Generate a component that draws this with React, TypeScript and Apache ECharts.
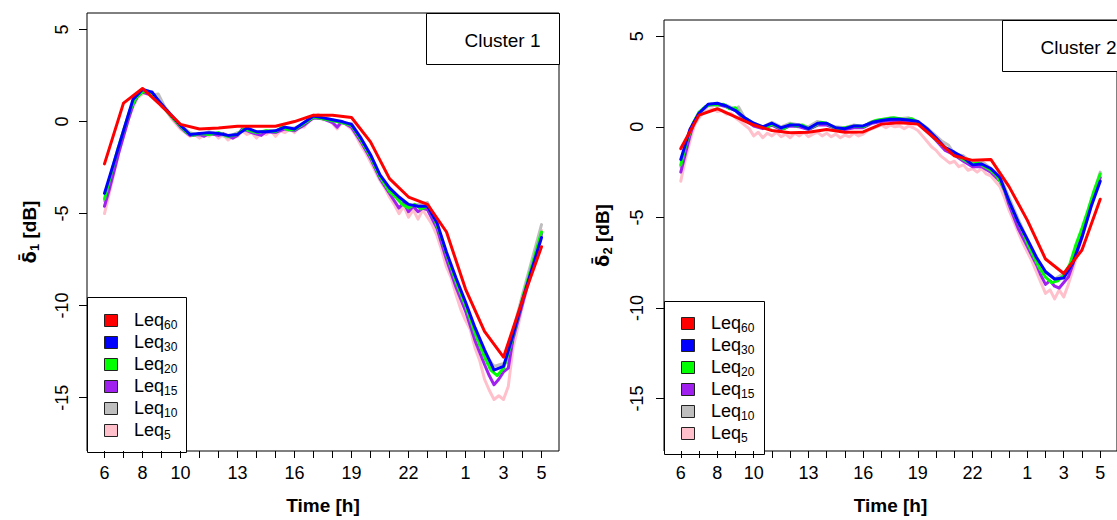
import React, { useEffect, useRef } from "react";
import * as echarts from "echarts";

// ---------- axes ----------
const TICK_HOURS = [6, 7, 8, 9, 10, 11, 12, 13, 14, 15, 16, 17, 18, 19, 20, 21, 22, 23, 24, 25, 26, 27, 28, 29];
const LABEL_HOURS = [6, 8, 10, 13, 16, 19, 22, 25, 27, 29];
const Y_TICKS = [-15, -10, -5, 0, 5];

const HOURS_60 = [6, 7, 8, 9, 10, 11, 12, 13, 14, 15, 16, 17, 18, 19, 20, 21, 22, 23, 24, 25, 26, 27, 28, 29];
const HOURS_30 = [6, 6.5, 7, 7.5, 8, 8.5, 9, 9.5, 10, 10.5, 11, 11.5, 12, 12.5, 13, 13.5, 14, 14.5, 15, 15.5, 16, 16.5, 17, 17.5, 18, 18.5, 19, 19.5, 20, 20.5, 21, 21.5, 22, 22.5, 23, 23.5, 24, 24.5, 25, 25.5, 26, 26.5, 27, 27.5, 28, 28.5, 29];

// ---------- Cluster 1 ----------
const C1_LEQ60 = [-2.3, 1.0, 1.8, 0.85, -0.15, -0.4, -0.35, -0.25, -0.25, -0.25, 0.0, 0.35, 0.35, 0.22, -1.1, -3.1, -4.1, -4.5, -6.0, -9.1, -11.4, -12.8, -9.7, -6.8];
const C1_LEQ30 = [-3.9, -2.2, -0.5, 1.2, 1.75, 1.6, 0.95, 0.35, -0.2, -0.7, -0.65, -0.6, -0.65, -0.75, -0.7, -0.35, -0.55, -0.55, -0.5, -0.3, -0.4, -0.05, 0.3, 0.2, 0.1, 0.0, -0.15, -0.9, -1.8, -2.9, -3.6, -4.1, -4.5, -4.6, -4.6, -5.5, -7.1, -8.5, -9.8, -11.2, -12.4, -13.5, -13.3, -11.6, -9.7, -8.0, -6.3];
const C1_LEQ20 = [[6,-4.2],[6.33,-2.9],[6.67,-1.6],[7,-0.5],[7.33,0.6],[7.67,1.3],[8,1.6],[8.33,1.65],[8.67,1.3],[9,0.9],[9.33,0.5],[9.67,0.1],[10,-0.25],[10.33,-0.6],[10.67,-0.75],[11,-0.65],[11.5,-0.7],[12,-0.6],[12.5,-0.8],[13,-0.7],[13.33,-0.4],[13.67,-0.5],[14,-0.6],[14.5,-0.5],[15,-0.55],[15.33,-0.3],[15.67,-0.45],[16,-0.45],[16.5,-0.1],[17,0.25],[17.5,0.15],[18,0.05],[18.5,-0.05],[19,-0.2],[19.5,-1.0],[20,-1.9],[20.5,-3.0],[21,-3.8],[21.33,-4.1],[21.67,-4.5],[22,-4.7],[22.33,-4.5],[22.67,-4.75],[23,-4.6],[23.33,-5.2],[23.67,-6.1],[24,-7.2],[24.5,-8.7],[25,-10.0],[25.5,-11.5],[26,-12.8],[26.33,-13.5],[26.67,-13.8],[27,-13.4],[27.33,-12.3],[27.67,-11.0],[28,-9.6],[28.5,-7.8],[29,-6.0]];
const C1_LEQ15 = [[6,-4.6],[6.25,-3.7],[6.5,-2.7],[6.75,-1.7],[7,-0.8],[7.25,0.1],[7.5,0.9],[7.75,1.4],[8,1.6],[8.25,1.5],[8.5,1.6],[8.75,1.2],[9,0.9],[9.5,0.3],[10,-0.3],[10.25,-0.55],[10.5,-0.75],[11,-0.7],[11.25,-0.8],[11.5,-0.65],[12,-0.75],[12.25,-0.65],[12.75,-0.9],[13,-0.75],[13.25,-0.4],[13.75,-0.6],[14.25,-0.75],[14.5,-0.55],[15,-0.6],[15.5,-0.4],[16,-0.5],[16.5,-0.2],[17,0.2],[17.5,0.15],[18,-0.05],[18.25,-0.3],[18.5,0.0],[19,-0.3],[19.5,-1.1],[20,-2.0],[20.5,-3.1],[21,-3.9],[21.25,-4.3],[21.5,-4.7],[21.75,-4.4],[22,-4.9],[22.25,-4.6],[22.5,-4.9],[22.75,-4.7],[23,-4.8],[23.5,-5.8],[24,-7.5],[24.5,-9.0],[25,-10.3],[25.5,-11.9],[26,-13.2],[26.25,-13.8],[26.5,-14.3],[26.75,-14.0],[27,-13.6],[27.25,-13.4],[27.5,-11.8],[28,-9.9],[28.5,-8.0],[29,-6.1]];
const C1_LEQ10 = [[6,-4.3],[6.5,-2.4],[7,-0.5],[7.5,1.0],[7.83,1.55],[8.17,1.7],[8.5,1.45],[8.83,1.5],[9.17,0.8],[9.5,0.4],[10,-0.2],[10.5,-0.6],[11,-0.75],[11.5,-0.55],[12,-0.7],[12.5,-0.85],[13,-0.6],[13.5,-0.45],[14,-0.7],[14.5,-0.5],[15,-0.5],[15.5,-0.35],[16,-0.35],[16.5,-0.15],[17,0.35],[17.5,0.2],[18,0.1],[18.5,-0.1],[19,-0.1],[19.5,-0.9],[20,-1.8],[20.5,-3.0],[21,-3.7],[21.5,-4.3],[22,-4.6],[22.5,-4.5],[23,-4.4],[23.5,-5.6],[24,-7.3],[24.5,-8.6],[25,-9.9],[25.5,-11.4],[26,-12.6],[26.5,-13.3],[26.83,-13.2],[27.17,-13.1],[27.5,-11.4],[28,-9.4],[28.5,-7.5],[29,-5.6]];
const C1_LEQ5 = [[6,-5.0],[6.25,-3.9],[6.5,-2.8],[6.75,-1.7],[7,-0.8],[7.25,0.1],[7.5,0.8],[7.75,1.3],[8,1.5],[8.25,1.6],[8.5,1.4],[8.75,1.3],[9,0.8],[9.25,0.6],[9.5,0.2],[9.75,-0.1],[10,-0.4],[10.25,-0.6],[10.5,-0.8],[10.75,-0.7],[11,-0.9],[11.25,-0.7],[11.5,-0.8],[11.75,-0.6],[12,-0.9],[12.25,-0.7],[12.5,-1.0],[12.75,-0.8],[13,-0.8],[13.25,-0.5],[13.5,-0.7],[13.75,-0.6],[14,-0.9],[14.25,-0.6],[14.5,-0.7],[14.75,-0.5],[15,-0.8],[15.25,-0.5],[15.5,-0.6],[15.75,-0.4],[16,-0.6],[16.25,-0.3],[16.5,-0.3],[16.75,0.1],[17,0.2],[17.25,0.4],[17.5,0.1],[17.75,0.2],[18,-0.1],[18.25,-0.4],[18.5,0.0],[18.75,-0.2],[19,-0.4],[19.25,-0.8],[19.5,-1.3],[19.75,-1.7],[20,-2.2],[20.25,-2.7],[20.5,-3.2],[20.75,-3.6],[21,-4.1],[21.25,-4.5],[21.5,-5.0],[21.75,-4.6],[22,-5.2],[22.25,-4.8],[22.5,-5.3],[22.75,-4.8],[23,-5.2],[23.25,-5.6],[23.5,-6.2],[23.75,-7.0],[24,-7.9],[24.25,-8.5],[24.5,-9.4],[24.75,-10.2],[25,-10.8],[25.25,-11.3],[25.5,-12.3],[25.75,-13.0],[26,-14.0],[26.25,-14.6],[26.5,-15.1],[26.75,-14.9],[27,-15.1],[27.25,-14.4],[27.5,-12.3],[27.75,-11.2],[28,-10.0],[28.25,-9.0],[28.5,-8.1],[28.75,-7.0],[29,-5.9]];

// ---------- Cluster 2 ----------
const C2_LEQ60 = [-1.2, 0.65, 1.0, 0.55, 0.1, -0.2, -0.32, -0.3, -0.15, -0.3, -0.28, 0.15, 0.22, 0.15, -0.7, -1.6, -1.85, -1.8, -3.3, -5.15, -7.3, -8.1, -6.8, -4.0];
const C2_LEQ30 = [-1.8, -0.15, 0.75, 1.25, 1.3, 1.15, 0.9, 0.5, 0.2, 0.0, 0.2, -0.05, 0.1, 0.1, -0.1, 0.2, 0.2, -0.05, -0.1, 0.05, 0.05, 0.25, 0.35, 0.42, 0.42, 0.38, 0.3, -0.1, -0.6, -1.15, -1.4, -1.7, -2.1, -2.05, -2.3, -2.8, -4.1, -5.25, -6.2, -7.2, -8.0, -8.4, -8.35, -7.5, -6.1, -4.4, -3.0];
const C2_LEQ20 = [[6,-2.1],[6.33,-0.8],[6.67,0.2],[7,0.8],[7.33,1.1],[7.67,1.25],[8,1.2],[8.33,1.25],[8.67,1.0],[9,1.05],[9.33,0.6],[9.67,0.4],[10,0.15],[10.33,0.05],[10.67,-0.05],[11,0.15],[11.33,0.0],[11.67,-0.1],[12,0.15],[12.33,0.05],[12.67,0.1],[13,-0.1],[13.33,0.05],[13.67,0.25],[14,0.2],[14.33,0.0],[14.67,-0.1],[15,-0.05],[15.33,0.0],[15.67,0.05],[16,0.0],[16.33,0.2],[16.67,0.35],[17,0.4],[17.33,0.45],[17.67,0.5],[18,0.45],[18.33,0.4],[18.67,0.45],[19,0.25],[19.33,0.0],[19.67,-0.4],[20,-0.7],[20.33,-1.0],[20.67,-1.3],[21,-1.5],[21.33,-1.7],[21.67,-1.9],[22,-2.05],[22.33,-2.0],[22.67,-2.2],[23,-2.4],[23.33,-2.7],[23.67,-3.3],[24,-4.1],[24.33,-4.9],[24.67,-5.6],[25,-6.4],[25.33,-7.1],[25.67,-7.8],[26,-8.3],[26.33,-8.6],[26.67,-8.5],[27,-8.2],[27.33,-7.6],[27.67,-6.5],[28,-5.6],[28.33,-4.6],[28.67,-3.5],[29,-2.6]];
const C2_LEQ15 = [[6,-2.5],[6.25,-1.5],[6.5,-0.5],[6.75,0.3],[7,0.8],[7.5,1.2],[8,1.25],[8.5,1.1],[9,0.9],[9.5,0.4],[10,0.05],[10.5,-0.1],[11,0.1],[11.5,-0.15],[12,0.05],[12.5,0.0],[13,-0.15],[13.5,0.1],[14,0.1],[14.5,-0.1],[15,-0.15],[15.5,-0.05],[16,-0.05],[16.5,0.2],[17,0.3],[17.5,0.35],[18,0.35],[18.5,0.3],[19,0.2],[19.5,-0.25],[20,-0.75],[20.5,-1.3],[21,-1.55],[21.5,-1.9],[22,-2.2],[22.5,-2.2],[23,-2.5],[23.5,-3.0],[23.75,-3.5],[24,-4.3],[24.5,-5.6],[25,-6.6],[25.5,-7.6],[25.75,-8.2],[26,-8.7],[26.25,-8.5],[26.5,-8.8],[26.75,-8.9],[27,-8.6],[27.25,-8.3],[27.5,-7.6],[28,-6.0],[28.5,-4.3],[29,-2.8]];
const C2_LEQ10 = [[6,-2.2],[6.5,-0.3],[7,0.7],[7.5,1.15],[8,1.2],[8.5,1.2],[9,0.95],[9.17,1.1],[9.5,0.5],[10,0.2],[10.5,0.0],[11,0.25],[11.5,0.0],[12,0.2],[12.5,0.1],[13,0.0],[13.5,0.3],[14,0.15],[14.5,0.0],[15,-0.05],[15.5,0.1],[16,0.0],[16.5,0.3],[17,0.4],[17.5,0.5],[18,0.45],[18.5,0.5],[19,0.3],[19.5,-0.05],[20,-0.5],[20.33,-0.8],[20.67,-1.0],[21,-1.5],[21.5,-1.6],[22,-2.0],[22.5,-1.9],[23,-2.3],[23.5,-2.7],[24,-3.9],[24.5,-5.1],[25,-6.2],[25.5,-7.2],[26,-8.0],[26.5,-8.4],[27,-8.1],[27.5,-7.4],[28,-5.8],[28.5,-4.1],[29,-2.5]];
const C2_LEQ5 = [[6,-3.0],[6.25,-1.8],[6.5,-0.8],[6.75,0.1],[7,0.5],[7.25,0.8],[7.5,0.9],[7.75,1.0],[8,0.85],[8.25,0.9],[8.5,0.7],[8.75,0.75],[9,0.5],[9.25,0.3],[9.5,0.1],[9.75,-0.1],[10,-0.5],[10.25,-0.3],[10.5,-0.6],[10.75,-0.35],[11,-0.5],[11.25,-0.3],[11.5,-0.55],[11.75,-0.4],[12,-0.6],[12.25,-0.35],[12.5,-0.5],[12.75,-0.3],[13,-0.55],[13.25,-0.4],[13.5,-0.3],[13.75,-0.5],[14,-0.35],[14.25,-0.55],[14.5,-0.4],[14.75,-0.6],[15,-0.45],[15.25,-0.55],[15.5,-0.35],[15.75,-0.5],[16,-0.4],[16.25,-0.2],[16.5,-0.1],[16.75,0.0],[17,0.1],[17.25,-0.05],[17.5,0.1],[17.75,0.0],[18,0.05],[18.25,-0.1],[18.5,0.05],[18.75,-0.05],[19,-0.2],[19.25,-0.5],[19.5,-0.8],[19.75,-1.1],[20,-1.3],[20.25,-1.6],[20.5,-1.8],[20.75,-2.0],[21,-1.9],[21.25,-2.2],[21.5,-2.1],[21.75,-2.4],[22,-2.3],[22.25,-2.5],[22.5,-2.3],[22.75,-2.6],[23,-2.7],[23.25,-3.0],[23.5,-3.3],[23.75,-3.9],[24,-4.6],[24.25,-5.2],[24.5,-5.8],[24.75,-6.4],[25,-6.9],[25.25,-7.4],[25.5,-8.0],[25.75,-8.6],[26,-9.2],[26.25,-9.0],[26.5,-9.5],[26.75,-9.0],[27,-9.4],[27.25,-8.7],[27.5,-7.9],[27.75,-7.0],[28,-6.1],[28.25,-5.2],[28.5,-4.4],[28.75,-3.6],[29,-2.8]];

const LEGEND_NAMES = ["60", "30", "20", "15", "10", "5"];
const COLORS = ["#FF0000", "#0000FF", "#00FF00", "#A020F0", "#BEBEBE", "#FFC0CB"];

const FONT = "'Liberation Sans', Arial, Helvetica, sans-serif";
const GREEK_FONT = "'DejaVu Sans', 'Liberation Sans', sans-serif";

function pairs(h: number[], v: number[]) {
  return h.map((x, i) => [x, v[i]]);
}

function legendGroup(bx: number, by: number, bw: number, bh: number, sqX: number, txX: number, y0: number, step: number) {
  const children: any[] = [
    { type: "rect", shape: { x: bx, y: by, width: bw, height: bh }, style: { fill: "#fff", stroke: "#000", lineWidth: 1 } },
  ];
  LEGEND_NAMES.forEach((n, i) => {
    const cy = y0 + i * step;
    children.push({
      type: "rect",
      shape: { x: sqX + 0.5, y: Math.round(cy - 6) + 0.5, width: 13, height: 12 },
      style: { fill: COLORS[i], stroke: "#222", lineWidth: 1 },
    });
    children.push({
      type: "text",
      x: txX,
      y: cy,
      style: {
        text: `{a|Leq}{b|${n}}`,
        verticalAlign: "middle",
        align: "left",
        rich: {
          a: { fontSize: 18, fontFamily: FONT, fill: "#000", lineHeight: 22, verticalAlign: "middle" },
          b: { fontSize: 12, fontFamily: FONT, fill: "#000", verticalAlign: "bottom" },
        },
      },
    });
  });
  return { type: "group", children };
}

function clusterBox(bx: number, by: number, bw: number, bh: number, label: string) {
  return {
    type: "group",
    children: [
      { type: "rect", shape: { x: bx, y: by, width: bw, height: bh }, style: { fill: "#fff", stroke: "#000", lineWidth: 1 } },
      { type: "text", x: bx + 38, y: by + 27, style: { text: label, fontSize: 19, fontFamily: FONT, fill: "#000", verticalAlign: "middle", align: "left" } },
    ],
  };
}

function xAxisCfg(gi: number) {
  return {
    gridIndex: gi,
    type: "value",
    min: 5.08,
    max: 29.92,
    axisLine: { show: false, onZero: false },
    splitLine: { show: false },
    axisTick: { show: true, length: 7, customValues: TICK_HOURS, lineStyle: { color: "#000", width: 1 } },
    axisLabel: {
      customValues: LABEL_HOURS,
      margin: 13,
      fontSize: 18,
      fontFamily: FONT,
      color: "#000",
      formatter: (v: number) => String(v > 24 ? v - 24 : v),
    },
    name: "Time [h]",
    nameLocation: "middle",
    nameGap: 45,
    nameTextStyle: { fontSize: 19, fontWeight: "bold", fontFamily: FONT, color: "#000" },
  };
}

function yAxisCfg(gi: number, sub: string, margin: number, gap: number) {
  return {
    gridIndex: gi,
    type: "value",
    min: -17.9,
    max: 5.9,
    axisLine: { show: false, onZero: false },
    splitLine: { show: false },
    axisTick: { show: true, length: 8, customValues: Y_TICKS, lineStyle: { color: "#000", width: 1 } },
    axisLabel: { customValues: Y_TICKS, rotate: 90, margin, fontSize: 18, fontFamily: FONT, color: "#000" },
    name: `{d|\u03B4\u0304}{s|${sub}}{a| [dB]}`,
    nameLocation: "middle",
    nameRotate: 90,
    nameGap: gap,
    nameTextStyle: {
      fontSize: 19,
      fontWeight: "bold",
      fontFamily: FONT,
      color: "#000",
      rich: {
        d: { fontSize: 18, fontWeight: "bold", fontFamily: GREEK_FONT, color: "#000", lineHeight: 24, verticalAlign: "middle" },
        a: { fontSize: 19, fontWeight: "bold", fontFamily: FONT, color: "#000", lineHeight: 24, verticalAlign: "middle" },
        s: { fontSize: 13, fontWeight: "bold", fontFamily: FONT, color: "#000", verticalAlign: "bottom" },
      },
    },
  };
}

function panelSeries(gi: number, l60: number[], l30: number[], l20: any[], l15: any[], l10: any[], l5: any[]) {
  const mk = (name: string, data: any[], color: string) => ({
    name,
    type: "line",
    xAxisIndex: gi,
    yAxisIndex: gi,
    data,
    showSymbol: false,
    symbol: "none",
    smooth: false,
    lineStyle: { color, width: 3, cap: "round", join: "round" },
    itemStyle: { color },
    emphasis: { disabled: true },
  });
  return [
    mk("Leq5", l5, COLORS[5]),
    mk("Leq10", l10, COLORS[4]),
    mk("Leq15", l15, COLORS[3]),
    mk("Leq20", l20, COLORS[2]),
    mk("Leq30", pairs(HOURS_30, l30), COLORS[1]),
    mk("Leq60", pairs(HOURS_60, l60), COLORS[0]),
  ];
}

export default function App() {
  const ref = useRef<HTMLDivElement>(null);
  useEffect(() => {
    if (!ref.current) return;
    const chart = echarts.init(ref.current, undefined, { renderer: "svg" });
    chart.setOption({
      animation: false,
      backgroundColor: "#fff",
      grid: [
        { left: 87, top: 13, width: 472, height: 439, show: true, borderColor: "#000", borderWidth: 1, backgroundColor: "transparent" },
        { left: 664, top: 20, width: 470, height: 434, show: true, borderColor: "#000", borderWidth: 1, backgroundColor: "transparent" },
      ],
      xAxis: [xAxisCfg(0), xAxisCfg(1)],
      yAxis: [yAxisCfg(0, "1", 16, 46), yAxisCfg(1, "2", 18, 50)],
      series: [
        ...panelSeries(0, C1_LEQ60, C1_LEQ30, C1_LEQ20, C1_LEQ15, C1_LEQ10, C1_LEQ5),
        ...panelSeries(1, C2_LEQ60, C2_LEQ30, C2_LEQ20, C2_LEQ15, C2_LEQ10, C2_LEQ5),
      ],
      graphic: [
        legendGroup(87.5, 297.5, 99, 155, 104, 134, 319.5, 22.1),
        legendGroup(664.5, 301.5, 100, 153, 681, 711, 322.5, 22),
        clusterBox(426.5, 13.5, 133, 51, "Cluster 1"),
        clusterBox(1002.5, 20.5, 132, 51, "Cluster 2"),
      ],
    });
    return () => chart.dispose();
  }, []);
  return <div ref={ref} style={{ position: "fixed", left: 0, top: 0, width: 1117, height: 520 }} />;
}
